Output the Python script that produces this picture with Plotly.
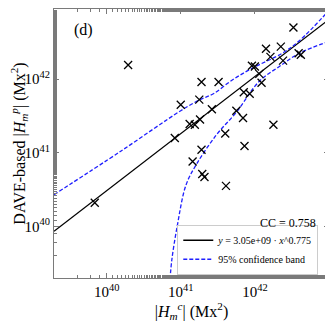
import numpy as np
import plotly.graph_objects as go

# data (log10 values)
log_hc = [39.84, 40.29, 41.28, 41.51, 41.00, 41.25, 41.42, 41.12, 41.19, 41.26,
          40.92, 41.28, 41.16, 41.29, 41.32, 41.61, 41.60, 41.75, 41.84, 41.86,
          41.85, 41.93, 42.09, 42.06, 41.96, 42.00, 42.15, 42.35, 42.21, 42.38,
          42.59, 42.62, 42.52, 42.25]
log_hp = [40.32, 42.19, 41.96, 41.96, 41.65, 41.72, 41.59, 41.39, 41.38, 41.45,
          41.20, 41.04, 40.88, 40.71, 40.67, 40.55, 41.26, 41.57, 41.47, 41.09,
          41.82, 41.80, 41.95, 42.07, 42.18, 42.17, 42.41, 42.44, 42.30, 42.25,
          42.35, 42.33, 42.70, 41.38]

# fit: y = A * x^B
fit_A = 3.05e9
fit_B = 0.775
fit_x_log = [39.29, 43.0]

# 95% confidence band
up_x_log = [39.29, 40.19, 41.00, 41.26, 41.44, 41.70, 41.97, 42.37, 42.60, 43.0]
up_y_log = [40.43, 41.02, 41.57, 41.72, 41.80, 41.99, 42.15, 42.35, 42.52, 42.93]
lo_x_log = [40.855, 40.88, 40.95, 41.07, 41.21, 41.48, 41.75, 42.06, 42.33, 42.60, 43.0]
lo_y_log = [39.28, 39.55, 39.99, 40.56, 40.84, 41.24, 41.55, 41.97, 42.17, 42.35, 42.51]

tick_exp = [40, 41, 42]

serif = "Liberation Serif"
frame = "#7a7a7a"
blue = "#1f1fff"

fig = go.Figure()

# fit line
fx = np.power(10.0, fit_x_log)
fig.add_trace(go.Scatter(x=fx, y=fit_A * fx ** fit_B, mode="lines",
                         line=dict(color="black", width=1.3),
                         name="<i>y</i> = 3.05e+09 · <i>x</i>^0.775"))

# confidence band
fig.add_trace(go.Scatter(x=np.power(10.0, up_x_log), y=np.power(10.0, up_y_log), mode="lines",
                         line=dict(color=blue, width=1.3, dash="4px,2px", shape="spline"),
                         name="95% confidence band"))
fig.add_trace(go.Scatter(x=np.power(10.0, lo_x_log), y=np.power(10.0, lo_y_log), mode="lines",
                         line=dict(color=blue, width=1.3, dash="4px,2px", shape="spline"),
                         showlegend=False))

# points
fig.add_trace(go.Scatter(x=np.power(10.0, log_hc), y=np.power(10.0, log_hp), mode="markers",
                         marker=dict(symbol="x-thin", size=8, line=dict(width=1.3, color="black")),
                         showlegend=False))

axis_common = dict(
    type="log", showgrid=False, zeroline=False, automargin=False,
    showline=True, linecolor=frame, linewidth=1.2, mirror="ticks",
    ticks="inside", ticklen=5, tickcolor=frame, tickwidth=1,
    minor=dict(ticks="inside", ticklen=2.5, tickcolor=frame, tickwidth=0.8, showgrid=False),
    tickfont=dict(family=serif, size=15, color="black"),
    title_font=dict(family=serif, size=16, color="black"),
    tickvals=[10.0 ** e for e in tick_exp],
    ticktext=["10<sup>%d</sup>" % e for e in tick_exp],
)

fig.update_xaxes(**axis_common, range=[39.29, 43.0],
                 title_text="|<i>H</i><sub><i>m</i></sub><sup><i>c</i></sup>| (Mx<sup>2</sup>)",
                 title_standoff=4)
fig.update_yaxes(**axis_common, range=[39.30, 42.95],
                 title_text="DAVE-based |<i>H</i><sub><i>m</i></sub><sup><i>p</i></sup>| (Mx<sup>2</sup>)",
                 title_standoff=4)

fig.add_annotation(x=0.065, y=0.922, xref="paper", yref="paper", xanchor="left", yanchor="middle",
                   text="(d)", showarrow=False, font=dict(family=serif, size=16, color="black"))
fig.add_annotation(x=0.96, y=0.205, xref="paper", yref="paper", xanchor="right", yanchor="middle",
                   text="CC = 0.758", showarrow=False, font=dict(family=serif, size=12, color="black"))

# page body has an 8px margin, so the figure is 8px smaller to fit the window
fig.update_layout(
    width=325, height=317,
    margin=dict(l=46, r=4, t=1, b=47),
    plot_bgcolor="white", paper_bgcolor="white",
    legend=dict(x=0.961, y=0.012, xanchor="right", yanchor="bottom",
                bordercolor="#cccccc", borderwidth=1, bgcolor="white",
                font=dict(family=serif, size=10, color="black"),
                itemwidth=30, tracegroupgap=0),
)

fig.write_html("out.html")
